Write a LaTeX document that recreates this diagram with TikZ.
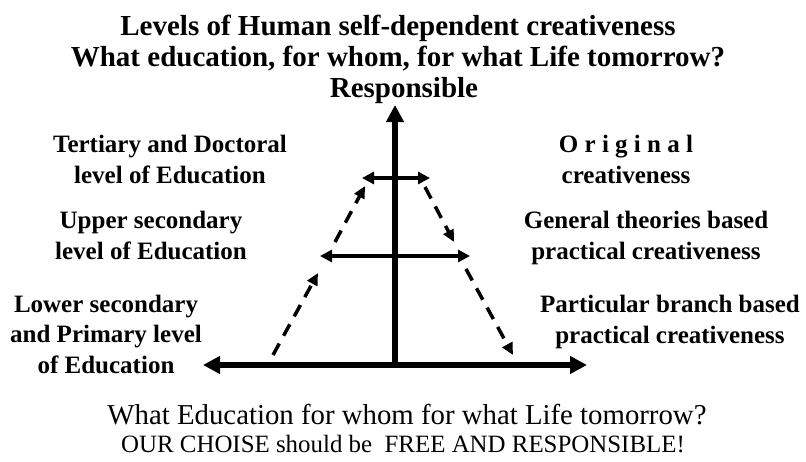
\documentclass[tikz,border=0pt]{standalone}
\usepackage{fontspec}
\setmainfont{Liberation Serif}
\usetikzlibrary{arrows.meta}

\begin{document}
\begin{tikzpicture}[
    x=1pt, y=-1pt,
    heading/.style={font=\fontsize{29}{31}\selectfont\bfseries, align=center, inner sep=0pt, anchor=base},
    level/.style={font=\fontsize{25}{30.5}\selectfont\bfseries, align=center, inner sep=0pt, anchor=base},
    axis/.style={line width=5.5pt, -{Triangle[length=17pt, width=17pt]}},
    span/.style={line width=3.5pt, {Triangle[length=12pt, width=12pt]}-{Triangle[length=12pt, width=12pt]}},
    climb/.style={line width=3.5pt, dash pattern=on 13pt off 9pt, -{Triangle[length=12pt, width=11pt]}}
]
\useasboundingbox (0,0) rectangle (806,461);

% Title
\node[heading] (title) at (398,66) {Levels of Human self-dependent creativeness\\What education, for whom, for what Life tomorrow?};
\node[heading] (resp) at (404,97) {Responsible};

% Axes
\coordinate (origin) at (395,365);
\coordinate (top) at (395,105);
\coordinate (left) at (203,365);
\coordinate (right) at (587,365);
\draw[axis] (origin) -- (top);
\draw[axis] (origin) -- (left);
\draw[axis] (origin) -- (right);

% Horizontal spans
\coordinate (tl) at (362,178);
\coordinate (tr) at (430,178);
\coordinate (ml) at (320,256);
\coordinate (mr) at (470,256);
\draw[span] (tl) -- (tr);
\draw[span] (ml) -- (mr);

% Dashed climbs
\coordinate (l1s) at (273,355);
\coordinate (l1e) at (318,273);
\coordinate (l2s) at (335,242);
\coordinate (l2e) at (365,186);
\coordinate (r1s) at (425,187);
\coordinate (r1e) at (454,242);
\coordinate (r2s) at (466,269);
\coordinate (r2e) at (513,355);
\draw[climb] (l1s) -- (l1e);
\draw[climb] (l2s) -- (l2e);
\draw[climb] (r1s) -- (r1e);
\draw[climb] (r2s) -- (r2e);

% Levels of education
\node[level] (tert) at (170,183) {Tertiary and Doctoral\\level of Education};
\node[level] (upper) at (151,259) {Upper secondary\\level of Education};
\node[level] (lower) at (106,373) {Lower secondary\\and Primary level\\of Education};

% Levels of creativeness
\node[level] (orig) at (626,183) {O r i g i n a l\\creativeness};
\node[level] (gen) at (646,259) {General theories based\\practical creativeness};
\node[level] (part) at (670,343) {Particular branch based\\practical creativeness};

% Bottom lines
\node[font=\fontsize{28.8}{30}\selectfont, inner sep=0pt, anchor=base] (question) at (407,424) {What Education for whom for what Life tomorrow?};
\node[font=\fontsize{24.9}{28}\selectfont, inner sep=0pt, anchor=base] (choice) at (403,452) {OUR CHOISE should be\ \ FREE AND RESPONSIBLE!};
\end{tikzpicture}
\end{document}
